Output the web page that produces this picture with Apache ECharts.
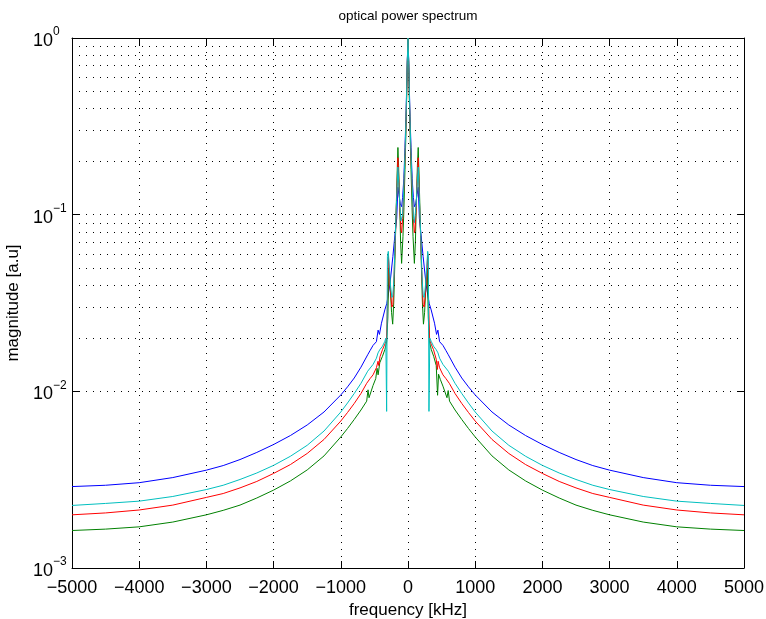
<!DOCTYPE html>
<html>
<head>
<meta charset="utf-8">
<script src="https://cdn.jsdelivr.net/npm/echarts@6/dist/echarts.min.js"></script>
<style>
html,body{margin:0;padding:0;background:#fff;}
#chart{width:766px;height:619px;}
</style>
</head>
<body>
<div id="chart"></div>
<script>
// ---- data (frequency in kHz, magnitude in a.u.) ----
const xTicks = [-5000,-4000,-3000,-2000,-1000,0,1000,2000,3000,4000,5000];
const yTicks = [0.001,0.01,0.1,1];

const freqBlue = [-5000,-4500,-4000,-3500,-3000,-2750,-2500,-2250,-2000,-1750,-1500,-1250,-1000,-900,-800,-700,-600,
  -565,-520,-470,-445,-425,-395,-345,-315,-270,-225,-190,-168,-150,-135,-115,-95,-80,-62,-45,-30,-20,-10,0,
  10,20,30,45,62,80,95,115,135,152,170,190,225,270,315,345,395,425,445,470,520,565,
  600,700,800,900,1000,1250,1500,1750,2000,2250,2500,2750,3000,3500,4000,4500,5000];
const magBlue = [0.00289,0.00294,0.00304,0.00325,0.00358,0.00380,0.00411,0.00451,0.00500,0.00562,0.00645,0.00764,0.00954,0.0106,0.0119,0.0137,0.0161,
  0.0170,0.0182,0.0191,0.0222,0.0210,0.0243,0.0289,0.0315,0.040,0.058,0.080,0.095,0.143,0.13,0.115,0.111,0.125,0.16,0.24,0.36,0.52,0.76,0.97,
  0.76,0.52,0.36,0.24,0.16,0.125,0.111,0.115,0.13,0.143,0.095,0.080,0.058,0.040,0.0315,0.0289,0.0243,0.0210,0.0222,0.0191,0.0182,0.0170,
  0.0161,0.0137,0.0119,0.0106,0.00954,0.00764,0.00645,0.00562,0.00500,0.00451,0.00411,0.00380,0.00358,0.00325,0.00304,0.00294,0.00289];

const freqGreen = [-5000,-4500,-4000,-3500,-3000,-2750,-2500,-2250,-2000,-1750,-1500,-1250,-1000,-900,-800,-700,
  -615,-595,-580,-520,-480,-460,-445,-420,-380,-345,-318,-300,-285,-265,-245,-228,-212,-195,-178,-162,-150,-140,-125,-110,-95,-75,-60,-45,-30,-20,-10,0,
  10,20,30,45,60,75,95,110,125,140,152,164,180,197,214,230,247,267,287,302,320,347,382,420,440,455,480,520,580,598,618,
  700,800,900,1000,1250,1500,1750,2000,2250,2500,2750,3000,3500,4000,4500,5000];
const magGreen = [0.00163,0.00166,0.00171,0.00182,0.00200,0.00212,0.00227,0.00249,0.00276,0.00311,0.00359,0.00431,0.00552,0.00616,0.00693,0.00784,
  0.0088,0.0102,0.0092,0.0108,0.0118,0.0135,0.0124,0.0145,0.0158,0.0172,0.019,0.026,0.050,0.040,0.028,0.024,0.032,0.055,0.10,0.17,0.24,0.19,0.12,0.07,0.053,0.075,0.11,0.18,0.30,0.45,0.72,1.0,
  0.72,0.45,0.30,0.18,0.11,0.075,0.053,0.07,0.12,0.19,0.24,0.17,0.10,0.055,0.032,0.024,0.028,0.040,0.050,0.026,0.019,0.0172,0.0158,0.0140,0.0095,0.0125,0.0117,0.0107,0.0092,0.0101,0.0088,
  0.00784,0.00693,0.00616,0.00552,0.00431,0.00359,0.00311,0.00276,0.00249,0.00227,0.00212,0.00200,0.00182,0.00171,0.00166,0.00163];

const freqRed = [-5000,-4500,-4000,-3500,-3000,-2750,-2500,-2250,-2000,-1750,-1500,-1250,-1000,-900,-800,-700,
  -615,-565,-520,-470,-446,-435,-417,-380,-345,-320,-305,-293,-280,-260,-240,-225,-210,-190,-170,-150,-137,-122,-105,-95,-80,-62,-45,-30,-20,-10,0,
  10,20,30,45,62,80,95,105,122,137,152,170,190,210,225,240,260,280,295,307,322,345,380,420,438,448,470,520,565,615,
  700,800,900,1000,1250,1500,1750,2000,2250,2500,2750,3000,3500,4000,4500,5000];
const magRed = [0.00200,0.00205,0.00213,0.00227,0.00251,0.00264,0.00284,0.00309,0.00343,0.00385,0.00445,0.00534,0.00679,0.00759,0.00854,0.00972,
  0.0111,0.0118,0.0124,0.0136,0.0148,0.0140,0.0157,0.0172,0.0185,0.0195,0.032,0.060,0.048,0.036,0.030,0.031,0.042,0.07,0.12,0.21,0.16,0.11,0.082,0.079,0.095,0.14,0.21,0.33,0.48,0.72,1.0,
  0.72,0.48,0.33,0.21,0.14,0.095,0.079,0.082,0.11,0.16,0.21,0.12,0.07,0.042,0.031,0.030,0.036,0.048,0.060,0.032,0.0195,0.0185,0.0172,0.0152,0.0133,0.0148,0.0136,0.0124,0.0118,0.0111,
  0.00972,0.00854,0.00759,0.00679,0.00534,0.00445,0.00385,0.00343,0.00309,0.00284,0.00264,0.00251,0.00227,0.00213,0.00205,0.00200];

const freqCyan = [-5000,-4500,-4000,-3500,-3000,-2750,-2500,-2250,-2000,-1750,-1500,-1250,-1000,-900,-800,-700,-600,
  -520,-470,-446,-420,-380,-345,-330,-318,-306,-293,-278,-258,-240,-225,-208,-190,-170,-150,-137,-122,-105,-95,-80,-62,-45,-30,-20,-10,0,
  10,20,30,45,62,80,95,105,122,137,152,170,190,208,225,240,258,278,293,303,312,325,345,380,420,446,470,520,
  600,700,800,900,1000,1250,1500,1750,2000,2250,2500,2750,3000,3500,4000,4500,5000];
const magCyan = [0.00226,0.00232,0.00239,0.00254,0.00278,0.00294,0.00317,0.00345,0.00381,0.00429,0.00495,0.00596,0.00764,0.00859,0.00972,0.0111,0.0130,
  0.0142,0.0154,0.0165,0.0172,0.0180,0.0192,0.020,0.0077,0.058,0.062,0.050,0.039,0.034,0.035,0.045,0.075,0.12,0.186,0.15,0.115,0.092,0.09,0.10,0.145,0.22,0.34,0.50,0.74,1.0,
  0.74,0.50,0.34,0.22,0.145,0.10,0.09,0.092,0.115,0.15,0.186,0.12,0.075,0.045,0.035,0.034,0.039,0.050,0.062,0.058,0.0077,0.020,0.0192,0.0180,0.0172,0.0165,0.0154,0.0142,
  0.0130,0.0111,0.00972,0.00859,0.00764,0.00596,0.00495,0.00429,0.00381,0.00345,0.00317,0.00294,0.00278,0.00254,0.00239,0.00232,0.00226];

const seriesNames = ['blue','green','red','cyan'];
const seriesColors = ['#0000ff','#008000','#ff0000','#00bfbf'];
const titleText = 'optical power spectrum';
const xName = 'frequency [kHz]';
const yName = 'magnitude [a.u]';

// ---- build ----
function zip(f, m){ const n = Math.min(f.length, m.length); const out=[]; for(let i=0;i<n;i++) out.push([f[i], m[i]]); return out; }
const allData = [zip(freqBlue,magBlue), zip(freqGreen,magGreen), zip(freqRed,magRed), zip(freqCyan,magCyan)];

const FONT = 'Liberation Sans, Arial, Helvetica, sans-serif';
const minorY = [];
for (let e = -3; e < 0; e++) for (let k = 2; k <= 9; k++) minorY.push({yAxis: k*Math.pow(10,e)});

const dotted = {type:[1,6], color:'#000', width:1};

const chart = echarts.init(document.getElementById('chart'), null, {renderer:'canvas'});
const series = allData.map((d,i)=>({
  name: seriesNames[i], type:'line', data:d, showSymbol:false, symbol:'none',
  lineStyle:{color:seriesColors[i], width:1}, itemStyle:{color:seriesColors[i]},
  z: 3 + i, animation:false, clip:true
}));
series.unshift({
  type:'line', data:[[0,0.001]], symbol:'none', lineStyle:{opacity:0}, z:1, silent:true,
  markLine:{silent:true, symbol:'none', label:{show:false}, lineStyle:dotted, animation:false, data:minorY}
});

chart.setOption({
  animation:false,
  backgroundColor:'#fff',
  title:{text:titleText, left:403, top:4, textAlign:'center',
    textStyle:{fontFamily:FONT, fontSize:13.5, fontWeight:'normal', color:'#000'}},
  grid:{left:72, right:22, top:38, bottom:51, containLabel:false, outerBoundsMode:'none'},
  xAxis:[{
    type:'value', min:-5000, max:5000, interval:1000, position:'bottom',
    name:xName, nameLocation:'middle', nameGap:30,
    nameTextStyle:{fontFamily:FONT, fontSize:17, color:'#000'},
    axisLine:{show:true, onZero:false, lineStyle:{color:'#000', width:1}},
    axisTick:{show:true, inside:true, length:7, lineStyle:{color:'#000'}},
    axisLabel:{fontFamily:FONT, fontSize:18, color:'#000', margin:11,
      formatter:v=> v<0 ? '\u2212'+Math.abs(v) : String(v)},
    splitLine:{show:true, lineStyle:dotted}
  },{
    type:'value', min:-5000, max:5000, interval:1000, position:'top',
    axisLine:{show:true, onZero:false, lineStyle:{color:'#000', width:1}},
    axisTick:{show:true, inside:true, length:7, lineStyle:{color:'#000'}},
    axisLabel:{show:false}, splitLine:{show:false}
  }],
  yAxis:[{
    type:'log', logBase:10, min:yTicks[0], max:yTicks[yTicks.length-1], splitNumber:3, position:'left',
    name:yName, nameLocation:'middle', nameGap:43,
    nameTextStyle:{fontFamily:FONT, fontSize:17, color:'#000'},
    axisLine:{show:true, onZero:false, lineStyle:{color:'#000', width:1}},
    axisTick:{show:true, inside:true, length:7, lineStyle:{color:'#000'}},
    axisLabel:{margin:39, align:'left',
      formatter:v=>{ const e=Math.round(Math.log10(v)); const es = e<0 ? '\u2212'+(-e) : String(e); return '{b|10}{s|'+es+'}'; },
      rich:{
        b:{fontFamily:FONT, fontSize:18, color:'#000', lineHeight:24, verticalAlign:'bottom'},
        s:{fontFamily:FONT, fontSize:12, color:'#000', lineHeight:12, verticalAlign:'top'}
      }},
    splitLine:{show:true, lineStyle:dotted}
  },{
    type:'log', logBase:10, min:yTicks[0], max:yTicks[yTicks.length-1], splitNumber:3, position:'right',
    axisLine:{show:true, onZero:false, lineStyle:{color:'#000', width:1}},
    axisTick:{show:true, inside:true, length:7, lineStyle:{color:'#000'}},
    axisLabel:{show:false}, splitLine:{show:false}
  }],
  series: series
});
</script>
</body>
</html>
